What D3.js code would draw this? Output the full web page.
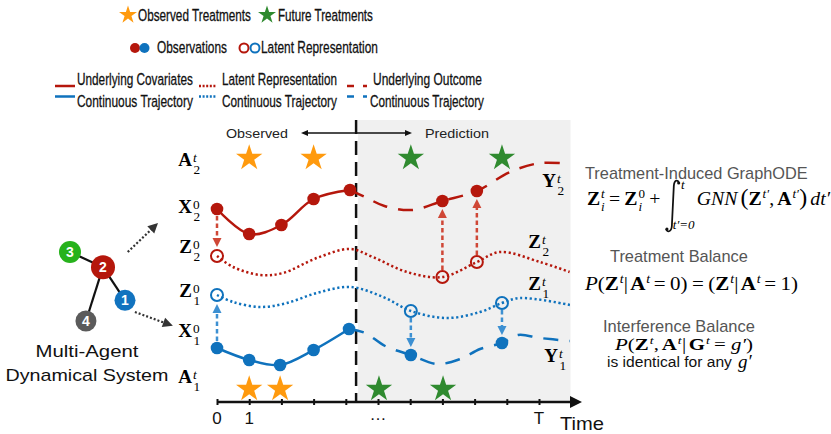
<!DOCTYPE html>
<html lang="en">
<head>
<meta charset="UTF-8">
<title>Treatment-Induced GraphODE</title>
<style>
    * { margin: 0; padding: 0; }
    body { background: #fff; }
    svg { display: block; }
</style>
</head>
<body>
<div id="container"></div>
<script src="https://d3js.org/d3.v7.min.js"></script>
<script>
"use strict";

// ---- time axis ----
var timeTicks = [0, 1, 2, 3, 4, 5, 6, 7, 8, 9, 10];
var tickLabelTimes = [0, 1, 5, 10];
var tickLabelTexts = ["0", "1", "\u2026", "T"];
var splitTime = 4.32;   // observed | prediction
var endTime = 10.98;

// ---- agent 2 (red) ----
var x2Observed = [[0, 193], [1, 168], [2, 177], [3, 203], [4.13, 212]];
var y2Outcome = [[4.13, 212], [4.6, 205], [5.2, 196], [6.05, 192], [7, 201], [8.07, 211], [9.1, 230], [10.05, 239], [10.95, 238]];
var y2Observed = [[7, 201], [8.07, 211]];
var z2Latent = [[0, 146], [0.5, 135], [1.34, 127], [2.05, 129], [3.1, 144], [4.13, 153], [4.84, 145], [5.9, 130], [7, 125], [8.07, 140], [8.79, 150], [10.03, 140], [10.95, 130]];
var z2Circles = [[0, 146], [7, 125], [8.07, 140]];

// ---- agent 1 (blue) ----
var x1Observed = [[0, 54], [1, 42], [1.96, 37], [3, 52], [4.1, 73]];
var y1Outcome = [[4.1, 73], [4.6, 69], [5.22, 56], [6.02, 47], [6.83, 38], [7.55, 43], [8.17, 53], [8.85, 59], [9.35, 67], [10.03, 64], [10.96, 61]];
var y1Observed = [[6.02, 47], [8.85, 59]];
var z1Latent = [[0, 107], [0.5, 100], [1.34, 95], [2.17, 99], [3.1, 109], [4.13, 115], [5.16, 105], [6.02, 91], [7.14, 84], [8.17, 90], [8.85, 99], [9.41, 104], [10.96, 97]];
var z1Circles = [[0, 107], [6.02, 91], [8.85, 99]];

// ---- treatments ----
var a2Level = 244, a1Level = 13;
var a2Observed = [1, 3];
var a2Future = [6.02, 8.85];
var a1Observed = [1, 1.96];
var a1Future = [5.03, 7.02];

// arrows latent <-> observation : [time, from level, to level, agent]
var initArrows = [[0, 193, 146, 2], [0, 54, 107, 1]];
var predArrows = [[7, 125, 201, 2], [8.07, 140, 211, 2], [6.02, 91, 47, 1], [8.85, 99, 59, 1]];

// ---- multi-agent graph ----
var graphNodes = [
    {id: "3", gx: 0, gy: 0, color: "#27b21c", r: 11},
    {id: "2", gx: 0.6, gy: 0.22, color: "#b5170c", r: 12},
    {id: "1", gx: 1, gy: 0.7, color: "#1173bf", r: 10.5},
    {id: "4", gx: 0.29, gy: 1, color: "#5b5b5b", r: 10.5}
];
var graphEdges = [["3", "2"], ["2", "1"], ["2", "4"]];
var graphArrows = [[[1.05, 0], [1.6, -0.42]], [[1.18, 0.87], [1.87, 1.07]]];

var SERIF = "'Liberation Serif', 'Times New Roman', Times, serif";
var SANS = "'Liberation Sans', Arial, Helvetica, sans-serif";
var RED = "#b5170c", BLUE = "#0f72bd";
var RED_ARROW = "#cf4736", BLUE_ARROW = "#3d90d2";
var ORANGE = "#ff9a0e", GREEN = "#2f8a2f";

var width = 831, height = 434;

var svg = d3.select("#container").append("svg")
    .attr("width", width)
    .attr("height", height);

var x = d3.scaleLinear().domain([0, 10]).range([217, 539]);
var y = d3.scaleLinear().domain([0, 282]).range([402, 120]);
var gxs = d3.scaleLinear().domain([0, 1]).range([70, 125]);
var gys = d3.scaleLinear().domain([0, 1]).range([252, 321]);

var line = d3.line()
    .x(function (d) { return x(d[0]); })
    .y(function (d) { return y(d[1]); })
    .curve(d3.curveCatmullRom.alpha(0.5));

function tri(tx, ty, dx, dy, len, half) {
    var bx = tx - dx * len, by = ty - dy * len;
    return "M" + tx + "," + ty + "L" + (bx - dy * half) + "," + (by + dx * half) +
        "L" + (bx + dy * half) + "," + (by - dx * half) + "Z";
}

var star = d3.symbol().type(d3.symbolStar);

// sans text squeezed (horizontally only) to a given width
function sansText(g, tx, ty, str, size, len, color, anchor, heavy) {
    var wrap = g.append("g");
    var t = wrap.append("text")
        .attr("x", 0).attr("y", 0)
        .attr("font-family", SANS)
        .attr("font-size", size)
        .attr("fill", color || "#111")
        .text(str);
    if (heavy) t.attr("stroke", color || "#111").attr("stroke-width", heavy);
    var w = t.node().getComputedTextLength();
    var k = len ? len / w : 1;
    var left = anchor === "middle" ? tx - w * k / 2 : tx;
    wrap.attr("transform", "translate(" + left + "," + ty + ") scale(" + k + ",1)");
    return wrap;
}

// math text: tokens laid out left to right, then fitted to [x0, x1]
function mathRun(parent, tokens, opts) {
    var size = opts.size;
    var g = parent.append("g");
    var cx = 0;
    tokens.forEach(function (tk) {
        if (typeof tk === "string") tk = {s: tk};
        cx += tk.pl || 0;
        if (tk.int) {
            // integral sign drawn as a stroke, from -1.32 em to +1.42 em
            var top = -size * 1.32, bot = size * 1.42, iw = size * 0.62;
            g.append("path")
                .attr("d", "M" + (cx + iw) + "," + (top + 3) +
                    "C" + (cx + iw - 1) + "," + (top - 0.5) + " " + (cx + iw * 0.62) + "," + (top - 0.5) + " " + (cx + iw * 0.58) + "," + (top + 6) +
                    "L" + (cx + iw * 0.42) + "," + (bot - 6) +
                    "C" + (cx + iw * 0.38) + "," + (bot + 0.5) + " " + cx + "," + (bot + 0.5) + " " + (cx - 0.5) + "," + (bot - 3))
                .attr("fill", "none").attr("stroke", "#111").attr("stroke-width", 1.7);
            g.append("circle").attr("cx", cx + iw - 0.3).attr("cy", top + 3).attr("r", 1.5).attr("fill", "#111");
            g.append("circle").attr("cx", cx + 0.2).attr("cy", bot - 3).attr("r", 1.5).attr("fill", "#111");
            g.append("text").attr("x", cx + iw + 2).attr("y", -size * 0.84)
                .attr("font-family", SERIF).attr("font-style", "italic")
                .attr("font-size", size * 0.66).text(tk.up);
            var lo = g.append("text").attr("x", cx + iw * 0.5).attr("y", size * 1.25)
                .attr("font-family", SERIF).attr("font-style", "italic")
                .attr("font-size", size * 0.66).text(tk.lo);
            cx += Math.max(iw, iw * 0.5 + lo.node().getComputedTextLength()) + 2;
            return;
        }
        var t = g.append("text").attr("x", cx).attr("y", 0)
            .attr("font-family", SERIF)
            .attr("font-size", tk.fs || size)
            .attr("font-weight", tk.b ? "bold" : "normal")
            .attr("font-style", tk.i ? "italic" : "normal")
            .text(tk.s);
        var w = t.node().getComputedTextLength();
        var sw = 0;
        [["sup", -size * 0.38], ["sub", size * 0.32]].forEach(function (p) {
            var v = tk[p[0]];
            if (!v) return;
            var s = g.append("text").attr("x", cx + w + 0.8).attr("y", p[1])
                .attr("font-family", SERIF)
                .attr("font-size", size * 0.66)
                .attr("font-style", /^[0-9]/.test(v) ? "normal" : "italic")
                .text(v);
            sw = Math.max(sw, s.node().getComputedTextLength() + 1);
        });
        cx += w + sw + (tk.pr || 0);
    });
    var k = opts.x1 ? (opts.x1 - opts.x0) / cx : 1;
    g.attr("transform", "translate(" + opts.x0 + "," + opts.y + ") scale(" + k + ",1)");
    return g;
}

// row label with stacked super/subscript, base ending at xEnd
function rowLabel(g, xEnd, base, yb, sup, sub, size) {
    size = size || 19;
    g.append("text").attr("x", xEnd).attr("y", yb)
        .attr("text-anchor", "end")
        .attr("font-family", SERIF).attr("font-weight", "bold")
        .attr("font-size", size).text(base);
    g.append("text").attr("x", xEnd + 1).attr("y", yb - size * 0.2)
        .attr("font-family", SERIF).attr("font-size", size * 0.7)
        .attr("font-style", /^[0-9]/.test(sup) ? "normal" : "italic")
        .text(sup);
    g.append("text").attr("x", xEnd + 1.5).attr("y", yb + size * 0.42)
        .attr("font-family", SERIF).attr("font-size", size * 0.7)
        .text(sub);
}

// ================= LEGEND =================
var legend = svg.append("g").attr("id", "legend");
var LFS = 17;
var LHV = 0.3;

legend.append("path").attr("d", star.size(100)()).attr("transform", "translate(128,15)").attr("fill", ORANGE);
sansText(legend, 138, 21, "Observed Treatments", LFS, 113, null, null, LHV);
legend.append("path").attr("d", star.size(100)()).attr("transform", "translate(267,15)").attr("fill", GREEN);
sansText(legend, 278, 21, "Future Treatments", LFS, 95, null, null, LHV);

legend.append("circle").attr("cx", 135).attr("cy", 48).attr("r", 5).attr("fill", RED);
legend.append("circle").attr("cx", 144.5).attr("cy", 48).attr("r", 5).attr("fill", BLUE);
sansText(legend, 157, 53, "Observations", LFS, 70, null, null, LHV);
legend.append("circle").attr("cx", 244).attr("cy", 48).attr("r", 4.5).attr("fill", "none").attr("stroke", RED).attr("stroke-width", 2);
legend.append("circle").attr("cx", 255).attr("cy", 48).attr("r", 4.5).attr("fill", "none").attr("stroke", BLUE).attr("stroke-width", 2);
sansText(legend, 261, 53, "Latent Representation", LFS, 117, null, null, LHV);

var legendLines = [
    {x0: 55, x1: 75, dash: null, t1: "Underlying Covariates", t2: "Continuous Trajectory", tx: 77, l1: 116, l2: 116},
    {x0: 199, x1: 217, dash: "2,1.6", t1: "Latent Representation", t2: "Continuous Trajectory", tx: 222, l1: 115, l2: 115},
    {x0: 347, x1: 367, dash: "7,9", t1: "Underlying Outcome", t2: "Continuous Trajectory", tx: 373, l1: 109, l2: 114, tx2: 370}
];
legendLines.forEach(function (d) {
    [[86, RED], [96.5, BLUE]].forEach(function (p) {
        legend.append("line")
            .attr("x1", d.x0).attr("x2", d.x1).attr("y1", p[0]).attr("y2", p[0])
            .attr("stroke", p[1]).attr("stroke-width", 2.5)
            .attr("stroke-dasharray", d.dash);
    });
    sansText(legend, d.tx, 85, d.t1, LFS, d.l1, null, null, LHV);
    sansText(legend, d.tx2 || d.tx, 107, d.t2, LFS, d.l2, null, null, LHV);
});

// ================= MAIN PLOT =================
var plot = svg.append("g").attr("id", "plot");

plot.append("rect")
    .attr("x", x(splitTime) + 2).attr("y", y(282))
    .attr("width", x(endTime) - x(splitTime) - 2)
    .attr("height", y(0) - y(282))
    .attr("fill", "#f0f0f0");

plot.append("line")
    .attr("x1", x(splitTime)).attr("x2", x(splitTime))
    .attr("y1", y(282)).attr("y2", y(0))
    .attr("stroke", "#111").attr("stroke-width", 2.5)
    .attr("stroke-dasharray", "14,7");

// observed <-> prediction arrow
var ay = 133;
plot.append("line").attr("x1", 306).attr("x2", 407).attr("y1", ay).attr("y2", ay)
    .attr("stroke", "#111").attr("stroke-width", 1.3);
plot.append("path").attr("d", tri(301, ay, -1, 0, 7, 3)).attr("fill", "#111");
plot.append("path").attr("d", tri(412, ay, 1, 0, 7, 3)).attr("fill", "#111");
sansText(plot, 226, 138, "Observed", 13.5, 62, "#222");
sansText(plot, 425, 138, "Prediction", 13.5, 64, "#222");

// trajectories
var series = [
    {data: x2Observed, color: RED, dash: null},
    {data: y2Outcome, color: RED, dash: "15,11"},
    {data: z2Latent, color: RED, dash: "2.2,2.6"},
    {data: x1Observed, color: BLUE, dash: null},
    {data: y1Outcome, color: BLUE, dash: "15,11"},
    {data: z1Latent, color: BLUE, dash: "2.2,2.6"}
];
plot.selectAll("path.traj").data(series).enter().append("path")
    .attr("class", "traj")
    .attr("d", function (d) { return line(d.data); })
    .attr("fill", "none")
    .attr("stroke", function (d) { return d.color; })
    .attr("stroke-width", 2.5)
    .attr("stroke-dasharray", function (d) { return d.dash; });

// latent -> observation arrows
function vArrow(d, startGap, tipGap) {
    var color = d[3] === 2 ? RED_ARROW : BLUE_ARROW;
    var px = x(d[0]);
    var y0 = y(d[1]), y1 = y(d[2]);
    var dir = y1 > y0 ? 1 : -1;
    var ys = y0 + dir * startGap, yt = y1 - dir * tipGap;
    plot.append("line").attr("x1", px).attr("x2", px)
        .attr("y1", ys).attr("y2", yt - dir * 8)
        .attr("stroke", color).attr("stroke-width", 2.5)
        .attr("stroke-dasharray", "4.5,3");
    plot.append("path").attr("d", tri(px, yt, 0, dir, 9, 4.5)).attr("fill", color);
}
initArrows.forEach(function (d) { vArrow(d, 7, 9); });
predArrows.forEach(function (d) { vArrow(d, 7, 8); });

// observations
var dots = [
    {data: x2Observed, color: RED}, {data: y2Observed, color: RED},
    {data: x1Observed, color: BLUE}, {data: y1Observed, color: BLUE}
];
dots.forEach(function (s) {
    plot.selectAll(null).data(s.data).enter().append("circle")
        .attr("cx", function (d) { return x(d[0]); })
        .attr("cy", function (d) { return y(d[1]); })
        .attr("r", 6.3)
        .attr("fill", s.color);
});

// latent representations
[{data: z2Circles, color: RED}, {data: z1Circles, color: BLUE}].forEach(function (s) {
    plot.selectAll(null).data(s.data).enter().append("circle")
        .attr("cx", function (d) { return x(d[0]); })
        .attr("cy", function (d) { return y(d[1]); })
        .attr("r", 6)
        .attr("fill", "none")
        .attr("stroke", s.color)
        .attr("stroke-width", 2);
});

// treatments
[
    {data: a2Observed, level: a2Level, color: ORANGE},
    {data: a2Future, level: a2Level, color: GREEN},
    {data: a1Observed, level: a1Level, color: ORANGE},
    {data: a1Future, level: a1Level, color: GREEN}
].forEach(function (s) {
    plot.selectAll(null).data(s.data).enter().append("path")
        .attr("d", star.size(215)())
        .attr("transform", function (d) { return "translate(" + x(d) + "," + y(s.level) + ")"; })
        .attr("fill", s.color);
});

// axis
var axisY = y(0);
var axis = plot.append("g").attr("transform", "translate(0," + axisY + ")")
    .call(d3.axisBottom(x).tickValues(timeTicks).tickSize(3).tickFormat(""));
axis.select(".domain").remove();
axis.selectAll(".tick line").attr("y1", -3).attr("y2", 3)
    .attr("stroke", "#111").attr("stroke-width", 2);
plot.append("line").attr("x1", x(0)).attr("x2", 572).attr("y1", axisY).attr("y2", axisY)
    .attr("stroke", "#111").attr("stroke-width", 2.5);
plot.append("path").attr("d", tri(582, axisY, 1, 0, 12, 6)).attr("fill", "#111");

plot.selectAll("text.tl").data(tickLabelTimes).enter().append("text")
    .attr("class", "tl")
    .attr("x", function (d) { return x(d); })
    .attr("y", function (d, i) { return i === 2 ? 420 : 424; })
    .attr("text-anchor", "middle")
    .attr("font-family", SANS).attr("font-size", 17)
    .attr("fill", "#111")
    .text(function (d, i) { return tickLabelTexts[i]; });
sansText(plot, 560, 430, "Time", 18, 44);

// row labels
var labels = svg.append("g").attr("id", "labels");
rowLabel(labels, 192, "A", 166, "t", "2");
rowLabel(labels, 192, "X", 213, "0", "2");
rowLabel(labels, 192, "Z", 253, "0", "2");
rowLabel(labels, 192, "Z", 297, "0", "1");
rowLabel(labels, 192, "X", 337, "0", "1");
rowLabel(labels, 192, "A", 383, "t", "1");
rowLabel(labels, 556, "Y", 187, "t", "2");
rowLabel(labels, 541, "Z", 248, "t", "2");
rowLabel(labels, 541, "Z", 290, "t", "1");
rowLabel(labels, 558, "Y", 362, "t", "1");

// ================= MULTI-AGENT GRAPH =================
var graph = svg.append("g").attr("id", "graph");
var nodeById = {};
graphNodes.forEach(function (n) { nodeById[n.id] = n; });

graph.selectAll("line.edge").data(graphEdges).enter().append("line")
    .attr("class", "edge")
    .attr("x1", function (d) { return gxs(nodeById[d[0]].gx); })
    .attr("y1", function (d) { return gys(nodeById[d[0]].gy); })
    .attr("x2", function (d) { return gxs(nodeById[d[1]].gx); })
    .attr("y2", function (d) { return gys(nodeById[d[1]].gy); })
    .attr("stroke", "#111").attr("stroke-width", 2.2);

var node = graph.selectAll("g.node").data(graphNodes).enter().append("g")
    .attr("class", "node")
    .attr("transform", function (d) { return "translate(" + gxs(d.gx) + "," + gys(d.gy) + ")"; });
node.append("circle").attr("r", function (d) { return d.r; }).attr("fill", function (d) { return d.color; });
node.append("text").attr("y", 5).attr("text-anchor", "middle")
    .attr("font-family", SANS).attr("font-weight", "bold").attr("font-size", 14)
    .attr("fill", "#fff").text(function (d) { return d.id; });

graphArrows.forEach(function (a) {
    var x0 = gxs(a[0][0]), y0 = gys(a[0][1]), x1 = gxs(a[1][0]), y1 = gys(a[1][1]);
    var len = Math.hypot(x1 - x0, y1 - y0), dx = (x1 - x0) / len, dy = (y1 - y0) / len;
    graph.append("line").attr("x1", x0).attr("y1", y0)
        .attr("x2", x1 - dx * 8).attr("y2", y1 - dy * 8)
        .attr("stroke", "#333").attr("stroke-width", 2.2)
        .attr("stroke-dasharray", "2,2");
    graph.append("path").attr("d", tri(x1, y1, dx, dy, 10, 5)).attr("fill", "#333");
});

sansText(graph, 87, 357, "Multi-Agent", 17, 103, "#111", "middle");
sansText(graph, 87, 381, "Dynamical System", 17, 163, "#111", "middle");

// ================= EQUATIONS =================
var eq = svg.append("g").attr("id", "equations");
var GRAY = "#555";

sansText(eq, 585, 179, "Treatment-Induced GraphODE", 16, 223, GRAY);
mathRun(eq, [
    {s: "Z", b: 1, sup: "t", sub: "i"},
    {s: "=", pl: 4, pr: 4},
    {s: "Z", b: 1, sup: "0", sub: "i"},
    {s: "+", pl: 4, pr: 6},
    {int: true, up: "t", lo: "t\u2032=0"},
    {s: "GNN", i: 1, pr: 3},
    {s: "(", fs: 23},
    {s: "Z", b: 1, sup: "t\u2032"},
    {s: ",", pr: 3},
    {s: "A", b: 1, sup: "t\u2032"},
    {s: ")", fs: 23, pr: 3},
    {s: "dt\u2032", i: 1}
], {x0: 587, x1: 830, y: 205, size: 19});

sansText(eq, 610, 262, "Treatment Balance", 16, 138, GRAY);
mathRun(eq, [
    {s: "P", i: 1}, "(",
    {s: "Z", b: 1, sup: "t"},
    {s: "|", pr: 2},
    {s: "A", b: 1, sup: "t"},
    {s: "=", pl: 3, pr: 4},
    "0", ")",
    {s: "=", pl: 4, pr: 4},
    "(",
    {s: "Z", b: 1, sup: "t"},
    {s: "|", pr: 2},
    {s: "A", b: 1, sup: "t"},
    {s: "=", pl: 3, pr: 4},
    "1", ")"
], {x0: 585, x1: 798, y: 290, size: 19});

sansText(eq, 603, 332, "Interference Balance", 16, 152, GRAY);
mathRun(eq, [
    {s: "P", i: 1}, "(",
    {s: "Z", b: 1, sup: "t"},
    {s: ",", pr: 2},
    {s: "A", b: 1, sup: "t"},
    {s: "|", pr: 2},
    {s: "G", b: 1, sup: "t"},
    {s: "=", pl: 3, pr: 4},
    {s: "g\u2032", i: 1},
    ")"
], {x0: 615, x1: 753, y: 350, size: 16});
sansText(eq, 607, 367, "is identical for any", 15, 125, "#111");
eq.append("text").attr("x", 738).attr("y", 368)
    .attr("font-family", SERIF).attr("font-style", "italic").attr("font-size", 19)
    .text("g\u2032");
</script>
</body>
</html>
